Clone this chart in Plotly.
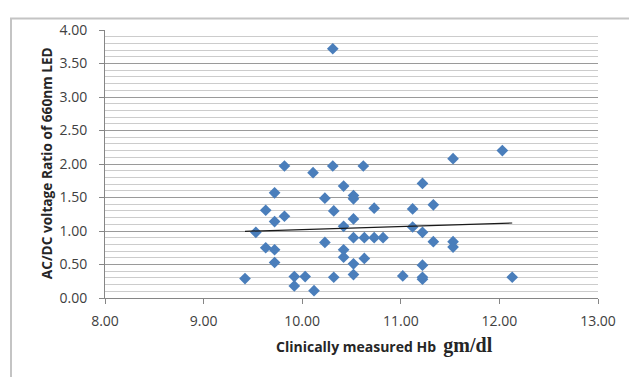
import numpy as np
import plotly.graph_objects as go

# Data
hb_gmdl = [9.42, 9.53, 9.63, 9.63, 9.72, 9.72, 9.72, 9.72, 9.82, 9.82,
           9.92, 9.92, 10.03, 10.11, 10.12, 10.23, 10.23, 10.31, 10.31, 10.32,
           10.32, 10.42, 10.42, 10.42, 10.42, 10.52, 10.52, 10.52, 10.52, 10.52,
           10.52, 10.62, 10.63, 10.63, 10.73, 10.73, 10.82, 11.02, 11.12, 11.12,
           11.22, 11.22, 11.22, 11.22, 11.22, 11.33, 11.33, 11.53, 11.53, 11.53,
           12.03, 12.13]
ac_dc_ratio = [0.29, 0.98, 1.31, 0.75, 1.57, 1.14, 0.72, 0.53, 1.97, 1.22,
               0.32, 0.18, 0.32, 1.87, 0.11, 1.49, 0.83, 3.72, 1.97, 1.30,
               0.31, 1.67, 1.07, 0.72, 0.61, 1.53, 1.48, 1.18, 0.90, 0.51,
               0.35, 1.97, 0.90, 0.59, 1.34, 0.90, 0.90, 0.33, 1.33, 1.06,
               1.71, 0.98, 0.49, 0.31, 0.28, 1.39, 0.84, 2.08, 0.84, 0.76,
               2.20, 0.31]

x_ticks = [8.0, 9.0, 10.0, 11.0, 12.0, 13.0]
y_ticks = [0.0, 0.5, 1.0, 1.5, 2.0, 2.5, 3.0, 3.5, 4.0]

# Linear trendline (least squares) over the data range
slope, intercept = np.polyfit(hb_gmdl, ac_dc_ratio, 1)
trend_x = [min(hb_gmdl), max(hb_gmdl)]
trend_y = [slope * v + intercept for v in trend_x]

# The page body has an 8px margin; figure is sized to fill the rest of the window
OFF = 8
PAGE_W, PAGE_H = 637, 377
W, H = PAGE_W - OFF, PAGE_H - OFF
# plot area in page pixel coordinates
PL, PR, PT, PB = 105, 598, 21, 298.5
pw, ph = PR - PL, PB - PT

def px(xpage):
    return (xpage - PL) / pw

def py(ypage):
    return (PB - ypage) / ph

fig = go.Figure()
fig.add_trace(go.Scatter(
    x=hb_gmdl, y=ac_dc_ratio, mode="markers",
    marker=dict(symbol="diamond", size=9, color="#4A7EBB", line=dict(width=0)),
    showlegend=False, hoverinfo="x+y"))
fig.add_trace(go.Scatter(
    x=trend_x, y=trend_y, mode="lines",
    line=dict(color="#1a1a1a", width=1.2),
    showlegend=False, hoverinfo="skip"))

tick_font = dict(family="Open Sans, Liberation Sans, sans-serif", size=14, color="#404040")

fig.update_layout(
    width=W, height=H,
    margin=dict(l=PL - OFF, r=PAGE_W - PR, t=PT - OFF, b=PAGE_H - PB, pad=0),
    paper_bgcolor="white", plot_bgcolor="white",
    xaxis=dict(
        range=[8, 13], tickvals=x_ticks, tickformat=".2f",
        showgrid=False, zeroline=False,
        showline=True, linecolor="#868686", linewidth=1,
        ticks="outside", ticklen=5, tickcolor="#868686",
        ticklabelstandoff=5,
        tickfont=tick_font, fixedrange=True),
    yaxis=dict(
        range=[0, 4], tickvals=y_ticks, tickformat=".2f",
        showgrid=True, gridcolor="#9a9a9a", gridwidth=1.3,
        zeroline=False,
        showline=True, linecolor="#868686", linewidth=1,
        ticks="outside", ticklen=5, tickcolor="#868686",
        ticklabelstandoff=9,
        tickfont=tick_font, fixedrange=True,
        minor=dict(dtick=0.1, showgrid=True, gridcolor="#cccccc", gridwidth=1.3, ticks="")),
    annotations=[
        dict(text="<b>AC/DC voltage Ratio of 660nm LED</b>",
             xref="paper", yref="paper",
             x=px(46), y=py(159), textangle=-90, showarrow=False,
             xanchor="center", yanchor="middle",
             font=dict(family="Open Sans, Liberation Sans, sans-serif", size=13.7, color="#262626")),
        dict(text="<b>Clinically measured Hb  </b>"
                  "<span style=\"font-family:'Liberation Serif', serif; font-size:20px\"><b>gm/dl</b></span>",
             xref="paper", yref="paper",
             x=px(384), y=py(348), showarrow=False,
             xanchor="center", yanchor="middle",
             font=dict(family="Open Sans, Liberation Sans, sans-serif", size=14, color="#262626")),
    ],
    shapes=[
        dict(type="rect", xref="paper", yref="paper",
             x0=px(11), x1=px(PAGE_W + 20),
             y0=py(PAGE_H + 20), y1=py(OFF + 1),
             line=dict(color="#c4c4c4", width=2), fillcolor="rgba(0,0,0,0)", layer="below"),
    ],
)

fig.write_html("out.html")
